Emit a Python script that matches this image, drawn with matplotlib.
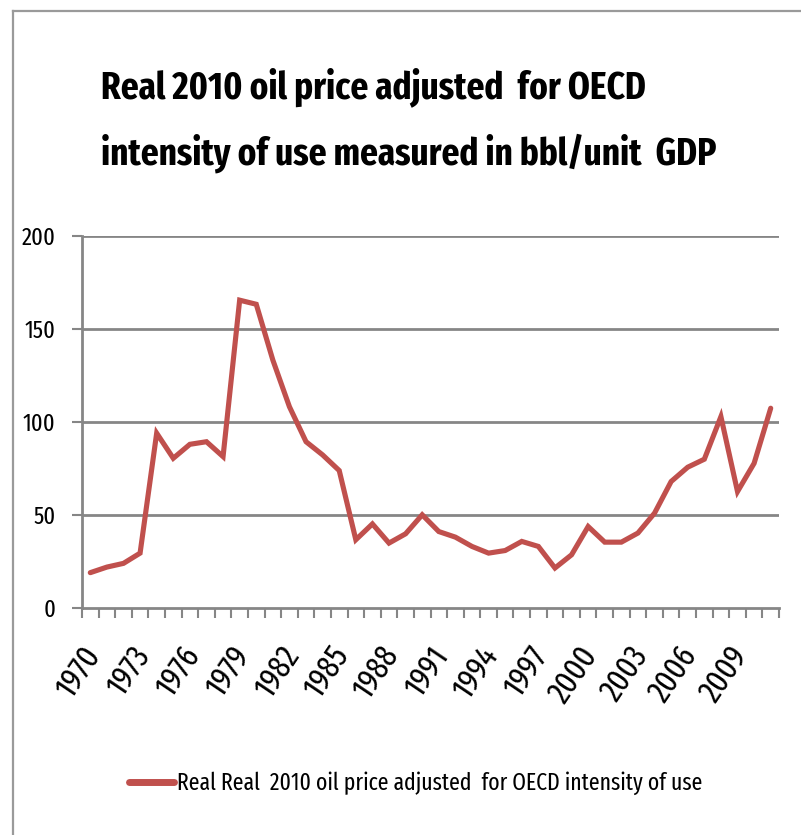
import matplotlib
matplotlib.use("Agg")
import matplotlib.pyplot as plt
from matplotlib.lines import Line2D
from matplotlib.transforms import ScaledTranslation
from matplotlib import font_manager

names = {f.name for f in font_manager.fontManager.ttflist}
FONT = "Fira Sans Extra Condensed" if "Fira Sans Extra Condensed" in names else "DejaVu Sans"
plt.rcParams["font.family"] = [FONT, "DejaVu Sans"]

years = list(range(1970, 2012))
values = [19, 22, 24, 29.5, 94, 80.5, 88, 89.4, 81.4, 165.5,
          163.3, 133.3, 108.2, 89.4, 82.3, 73.9, 36.7, 45.2, 34.9, 39.9,
          50.1, 41.1, 38.1, 33.1, 29.5, 30.9, 35.8, 33.1, 21.5, 28.6,
          43.8, 35.4, 35.4, 40.3, 51, 68, 75.7, 80, 102.9, 62.6,
          77.8, 107.4]
yticks = [0, 50, 100, 150, 200]
title_lines = ["Real 2010 oil price adjusted  for OECD",
               "intensity of use measured in bbl/unit  GDP"]
series_name = "Real Real  2010 oil price adjusted  for OECD intensity of use"

W, H = 801, 835
fig = plt.figure(figsize=(W / 100, H / 100), dpi=100)
renderer = fig.canvas.get_renderer()


def fit_size(text, target_px, weight="normal"):
    t = fig.text(0, 0, text, fontsize=20, fontweight=weight)
    w = t.get_window_extent(renderer).width
    t.remove()
    return 20 * target_px / w


ax = fig.add_axes([82 / W, 1 - 608 / H, (779 - 82) / W, (608 - 236) / H])

x = list(range(len(years)))
ax.plot(x, values, color="#C0504D", linewidth=3.7, solid_capstyle="round",
        solid_joinstyle="miter")

grid_c = "#868686"
ax.set_xlim(-0.5, len(years) - 0.5)
ax.set_ylim(0, 200)
ax.set_yticks(yticks)
ysize = fit_size("200", 34)
ax.set_yticklabels([str(v) for v in yticks], fontsize=ysize)
for v in yticks[1:]:
    ax.axhline(v, color=grid_c, linewidth=2, zorder=0)

ax.set_xticks([i - 0.5 for i in range(len(years) + 1)], minor=True)
major = list(range(0, len(years), 3))
ax.set_xticks(major)
xsize = fit_size("1970", 54)
ax.set_xticklabels([str(years[i]) for i in major], rotation=56, ha="right",
                   va="center", rotation_mode="anchor", fontsize=xsize)
ax.tick_params(axis="x", which="major", length=0, pad=30)
ax.tick_params(axis="x", which="minor", length=7, width=1.5, color=grid_c)
ax.tick_params(axis="y", length=7, width=1.5, color=grid_c, pad=12)
off = ScaledTranslation(3 / 100, 0, fig.dpi_scale_trans)
for lab in ax.get_xticklabels():
    lab.set_transform(lab.get_transform() + off)

for s in ["top", "right"]:
    ax.spines[s].set_visible(False)
for s in ["left", "bottom"]:
    ax.spines[s].set_color(grid_c)
    ax.spines[s].set_linewidth(2)

tsize = fit_size(title_lines[0], 546, weight="bold")
fig.text(101 / W, 1 - 98 / H, title_lines[0], ha="left", va="baseline",
         fontsize=tsize, fontweight="bold")
fig.text(101 / W, 1 - 165 / H, title_lines[1], ha="left", va="baseline",
         fontsize=tsize, fontweight="bold")

fig.add_artist(Line2D([129 / W, 174 / W], [1 - 782 / H, 1 - 782 / H],
                      color="#C0504D", linewidth=5, solid_capstyle="round"))
lsize = fit_size(series_name, 526)
fig.text(177 / W, 1 - 783 / H, series_name, ha="left", va="center", fontsize=lsize)

fig.add_artist(Line2D([13 / W, 13 / W], [0, 1 - 11 / H], color="#9a9a9a", linewidth=1.6))
fig.add_artist(Line2D([13 / W, 1], [1 - 11 / H, 1 - 11 / H], color="#9a9a9a", linewidth=1.6))

fig.savefig("out.png", dpi=100)
